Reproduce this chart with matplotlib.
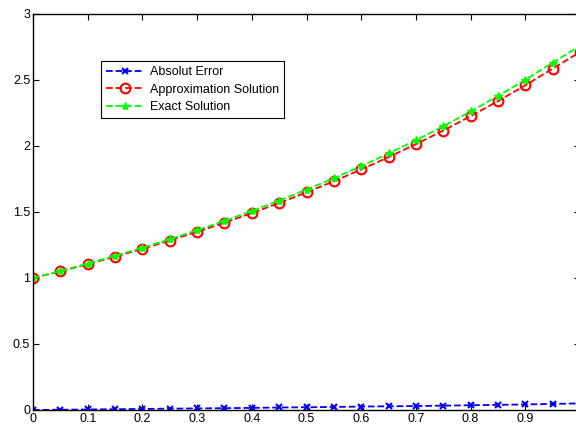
import numpy as np
import matplotlib.pyplot as plt

plt.rcParams['font.family'] = ['Liberation Sans', 'DejaVu Sans']

x = [0.00, 0.05, 0.10, 0.15, 0.20, 0.25, 0.30, 0.35, 0.40, 0.45, 0.50,
     0.55, 0.60, 0.65, 0.70, 0.75, 0.80, 0.85, 0.90, 0.95, 1.00]
approx = [1.000, 1.051, 1.105, 1.162, 1.221, 1.284, 1.350, 1.419, 1.492, 1.568, 1.649,
          1.733, 1.822, 1.916, 2.014, 2.117, 2.226, 2.340, 2.460, 2.586, 2.712]
exact = [1.000, 1.053, 1.109, 1.168, 1.229, 1.294, 1.362, 1.433, 1.508, 1.587, 1.670,
         1.756, 1.848, 1.944, 2.044, 2.150, 2.262, 2.379, 2.502, 2.632, 2.758]
error = [0.000, 0.002, 0.004, 0.006, 0.008, 0.010, 0.012, 0.014, 0.016, 0.019, 0.021,
         0.023, 0.026, 0.028, 0.030, 0.033, 0.036, 0.039, 0.042, 0.046, 0.050]

xticks = [0, 0.1, 0.2, 0.3, 0.4, 0.5, 0.6, 0.7, 0.8, 0.9, 1.0]
xlabels = ['0', '0.1', '0.2', '0.3', '0.4', '0.5', '0.6', '0.7', '0.8', '0.9', '']
yticks = [0, 0.5, 1, 1.5, 2, 2.5, 3]
ylabels = ['0', '0.5', '1', '1.5', '2', '2.5', '3']

fig = plt.figure(figsize=(5.76, 4.25), dpi=100)
# axes run slightly past the right edge of the figure, as in the original crop
ax = fig.add_axes([33 / 576, 15 / 425, 547 / 576, 396 / 425])

ax.plot(x, error, 'b--', marker='x', markersize=4, markeredgewidth=1.5,
        linewidth=1.3, label='Absolut Error')
ax.plot(x, approx, 'r--', marker='o', markersize=7, markerfacecolor='none',
        markeredgewidth=1.5, linewidth=1.3, label='Approximation Solution')
ax.plot(x, exact, '--', color='#00ff00', marker='*', markersize=6,
        linewidth=1.3, label='Exact Solution')

ax.set_xlim(0, 1)
ax.set_ylim(0, 3)
ax.set_xticks(xticks)
ax.set_xticklabels(xlabels)
ax.set_yticks(yticks)
ax.set_yticklabels(ylabels)
ax.tick_params(direction='in', top=True, right=True, labelsize=9, length=4, pad=2)
for s in ax.spines.values():
    s.set_linewidth(1.0)

leg = ax.legend(loc='upper left', bbox_to_anchor=(0.124, 0.881), borderaxespad=0,
                fontsize=9, fancybox=False, framealpha=1, edgecolor='black',
                handlelength=3, labelspacing=0.45, handletextpad=0.5)
leg.get_frame().set_linewidth(0.8)

fig.savefig('out.png', dpi=100)
